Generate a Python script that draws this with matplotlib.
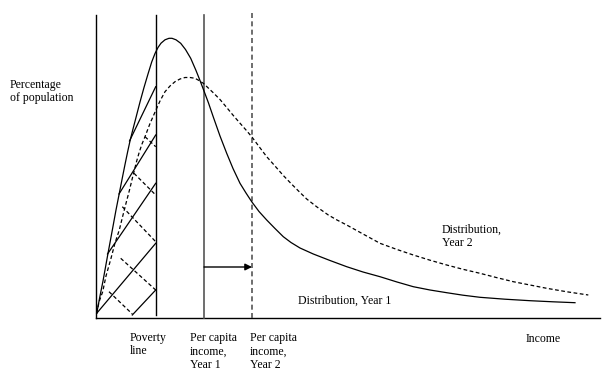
import matplotlib
matplotlib.use('Agg')
import matplotlib.pyplot as plt

# curve points (x = income, y = drawing units, top down)
year1_x = [96.7, 100, 103, 107.7, 112.7, 116, 119.3, 122.5, 125, 127.7, 130, 133, 136, 140,
           144, 148, 151.7, 155, 158, 161, 165, 169, 172, 176, 180.7, 185.5, 190.7, 196,
           200, 204, 208.5, 213.3, 220, 226.7, 233, 240, 246, 251.7, 259, 266.7, 275,
           283.3, 291, 300, 313.3, 330, 346.7, 363, 380, 397, 413.3, 430, 446.7, 463,
           480, 505, 530, 553, 575]
year1_y = [313.3, 296, 281, 255, 228, 210, 193.3, 177, 164.5, 151.5, 141, 129, 117.5, 102,
           87.5, 74, 62, 53.5, 47.5, 43.2, 39.8, 38.3, 38.3, 39.8, 43.3, 49.5, 58.3, 70.5,
           80.5, 91, 103, 117, 136, 153.3, 168.5, 183.3, 193, 201.7, 211.5, 220, 228.5,
           236.7, 242.5, 248, 254, 260.5, 266.7, 272, 276.7, 282, 286.7, 290, 292.7, 295.2,
           297.3, 299.2, 300.7, 301.8, 302.7]
year2_x = [96.7, 99, 102.7, 106, 111, 115, 119.3, 122.5, 126, 129.5, 132.7, 136.7, 139.3,
           142, 145, 150, 156.7, 160, 165, 170, 175, 180, 185, 190, 195, 199, 203.3,
           206.7, 213, 220, 226.7, 233.3, 240, 246, 251.7, 259, 266.7, 275, 283.3, 291.5,
           300, 306.7, 317, 328.3, 337, 346.7, 363, 380, 397, 413.3, 430, 446.7, 463,
           480, 497, 513.3, 530, 546.7, 567, 588.3]
year2_y = [313.3, 302, 291.7, 276, 258.3, 243, 230, 217, 203.3, 190, 176.7, 161, 152,
           144, 136.7, 123.5, 108.3, 101, 91.7, 86, 81.7, 79, 77.5, 77.5, 78.3, 80.5, 83.3,
           86.5, 92.5, 99.5, 107.5, 115.5, 123.2, 130, 136.7, 146.5, 156.7, 166, 175.5, 184,
           192.5, 199, 207, 215, 220, 225, 234, 243.3, 249.5, 255, 260.2, 265, 269.3,
           273.3, 277.7, 281.7, 285, 288.3, 291.8, 295]

# shading of the area under the curves left of the poverty line
hatch_solid = [((96.7, 313.3), (155.7, 243.3)), ((107.5, 254), (155.7, 183.3)),
               ((132.3, 315), (155.7, 290)), ((119, 194), (155.7, 135)),
               ((129.5, 141), (155.7, 86.7))]
hatch_dashed = [((109, 291.7), (132.3, 314)), ((120.7, 258.3), (155.7, 290)),
                ((122.3, 206.7), (155.7, 241.7)), ((134, 173.3), (155.7, 195)),
                ((145, 136.7), (155.7, 146.7))]

x_origin = 96
poverty_line = 156
income_year1 = 204
income_year2 = 252

fig = plt.figure(figsize=(6.12, 3.72), dpi=100)
ax = fig.add_axes([0, 0, 1, 1])
ax.set_xlim(0, 612)
ax.set_ylim(372, 0)
ax.axis('off')

lw = 0.9
dash = (3, 2)

# axes
ax.plot([x_origin, x_origin], [15, 318], color='black', lw=1.0)
ax.plot([x_origin, 600], [318, 318], color='black', lw=1.0)

# vertical markers
ax.plot([poverty_line, poverty_line], [15, 315], color='black', lw=1.0)
ax.plot([income_year1, income_year1], [15, 318], color='#555555', lw=1.2)
ax.plot([income_year2, income_year2], [13, 318], color='#555555', lw=1.2, dashes=dash)

ax.annotate('', xy=(income_year2, 267), xytext=(income_year1, 267),
            arrowprops=dict(arrowstyle='-|>', color='black', lw=1.0,
                            mutation_scale=10, shrinkA=0, shrinkB=0))

ax.plot(year1_x, year1_y, color='black', lw=lw)
ax.plot(year2_x, year2_y, color='black', lw=lw, dashes=dash)

for (a, b) in hatch_solid:
    ax.plot([a[0], b[0]], [a[1], b[1]], color='black', lw=lw)
for (a, b) in hatch_dashed:
    ax.plot([a[0], b[0]], [a[1], b[1]], color='black', lw=lw, dashes=dash)

font = dict(family='Liberation Serif', fontsize=8.5, color='black',
            va='top', ha='left', linespacing=1.15)
ax.text(10, 79, 'Percentage\nof population', **font)
ax.text(130, 332, 'Poverty\nline', **font)
ax.text(190, 332, 'Per capita\nincome,\nYear 1', **font)
ax.text(250, 332, 'Per capita\nincome,\nYear 2', **font)
ax.text(526, 333, 'Income', **font)
ax.text(442, 224, 'Distribution,\nYear 2', **font)
ax.text(298, 295, 'Distribution, Year 1', **font)

fig.savefig('out.png', dpi=100)
